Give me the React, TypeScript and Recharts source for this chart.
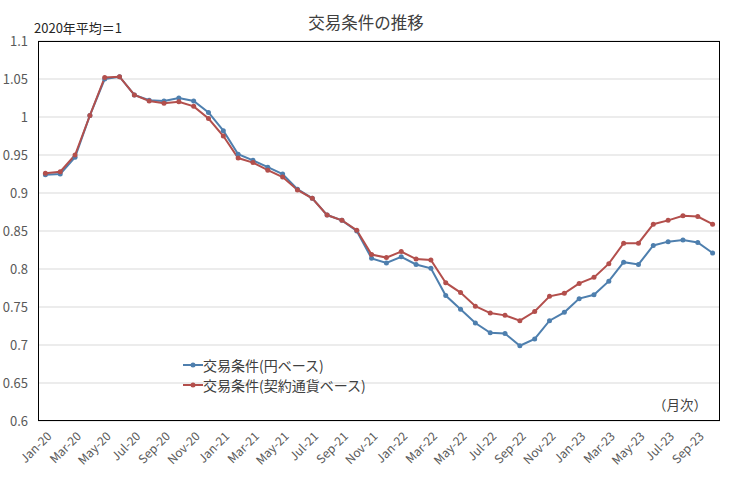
import { CartesianGrid, Line, LineChart, XAxis, YAxis } from 'recharts';

const months = [
	'Jan-20', 'Feb-20', 'Mar-20', 'Apr-20', 'May-20', 'Jun-20', 'Jul-20', 'Aug-20', 'Sep-20', 'Oct-20', 'Nov-20', 'Dec-20',
	'Jan-21', 'Feb-21', 'Mar-21', 'Apr-21', 'May-21', 'Jun-21', 'Jul-21', 'Aug-21', 'Sep-21', 'Oct-21', 'Nov-21', 'Dec-21',
	'Jan-22', 'Feb-22', 'Mar-22', 'Apr-22', 'May-22', 'Jun-22', 'Jul-22', 'Aug-22', 'Sep-22', 'Oct-22', 'Nov-22', 'Dec-22',
	'Jan-23', 'Feb-23', 'Mar-23', 'Apr-23', 'May-23', 'Jun-23', 'Jul-23', 'Aug-23', 'Sep-23', 'Oct-23',
];

// 交易条件（円ベース）
const yenBasis = [
	0.924, 0.925, 0.947, 1.002, 1.05, 1.053, 1.029, 1.022, 1.021, 1.025, 1.021, 1.006,
	0.982, 0.951, 0.943, 0.934, 0.925, 0.905, 0.893, 0.871, 0.864, 0.85, 0.814, 0.808,
	0.816, 0.806, 0.801, 0.765, 0.747, 0.729, 0.716, 0.715, 0.699, 0.708, 0.732, 0.743,
	0.761, 0.766, 0.784, 0.809, 0.806, 0.831, 0.836, 0.838, 0.835, 0.821,
];

// 交易条件（契約通貨ベース）
const contractBasis = [
	0.926, 0.928, 0.95, 1.002, 1.052, 1.053, 1.029, 1.021, 1.018, 1.02, 1.014, 0.998,
	0.975, 0.946, 0.94, 0.93, 0.921, 0.904, 0.893, 0.871, 0.864, 0.851, 0.819, 0.815,
	0.823, 0.813, 0.812, 0.782, 0.769, 0.751, 0.742, 0.739, 0.732, 0.744, 0.764, 0.768,
	0.781, 0.789, 0.807, 0.834, 0.834, 0.859, 0.864, 0.87, 0.869, 0.859,
];

const yTicks = [0.6, 0.65, 0.7, 0.75, 0.8, 0.85, 0.9, 0.95, 1, 1.05, 1.1];

const data = months.map((m, i) => ({ month: m, yen: yenBasis[i], contract: contractBasis[i] }));

const BLUE = '#4E7FAE';
const RED = '#B34F4C';
const FONT = '"Noto Sans CJK JP", "Noto Sans", sans-serif';

const MonthTick = ({ x, y, payload }: any) => (
	<g transform={`translate(${x + 4},${y + 5})`}>
		<text textAnchor="end" transform="rotate(-45)" dy="0.35em" fontSize={12} fill="#595959" fontFamily={FONT}>
			{payload.value}
		</text>
	</g>
);

const legendItems = [
	{ c: BLUE, t: '交易条件(円ベース)' },
	{ c: RED, t: '交易条件(契約通貨ベース)' },
];

export default function App() {
	return (
		<div style={{ position: 'absolute', left: 0, top: 0, width: 732, height: 477, background: '#fff', fontFamily: FONT }}>
			<LineChart width={732} height={477} data={data} margin={{ top: 41, right: 12, bottom: 0, left: 0 }}>
				<CartesianGrid horizontal vertical={false} stroke="#d9d9d9" strokeWidth={1} />
				<XAxis
					dataKey="month"
					interval={1}
					height={56}
					padding={{ left: 7.4, right: 7.4 }}
					tickLine={false}
					axisLine={false}
					tick={<MonthTick />}
				/>
				<YAxis
					domain={[0.6, 1.1]}
					ticks={yTicks}
					width={38}
					tickLine={false}
					axisLine={false}
					tickMargin={4}
					tick={{ fontSize: 13, fill: '#595959', fontFamily: FONT }}
				/>
				<Line
					dataKey="yen"
					stroke={BLUE}
					strokeWidth={2}
					dot={{ r: 2.5, fill: BLUE, stroke: BLUE, strokeWidth: 0 }}
					isAnimationActive={false}
				/>
				<Line
					dataKey="contract"
					stroke={RED}
					strokeWidth={2}
					dot={{ r: 2.5, fill: RED, stroke: RED, strokeWidth: 0 }}
					isAnimationActive={false}
				/>
			</LineChart>
			<div
				style={{
					position: 'absolute',
					left: 38,
					top: 41,
					width: 682,
					height: 380,
					boxSizing: 'border-box',
					border: '1px solid #000',
					pointerEvents: 'none',
				}}
			/>
			<div style={{ position: 'absolute', left: 183, top: 355, fontSize: 14, color: '#404040', lineHeight: '20px' }}>
				{legendItems.map((it) => (
					<div key={it.t} style={{ display: 'flex', alignItems: 'center' }}>
						<svg width={20} height={10} style={{ marginRight: 0 }}>
							<line x1={0} y1={5} x2={20} y2={5} stroke={it.c} strokeWidth={2} />
							<circle cx={10} cy={5} r={2.5} fill={it.c} />
						</svg>
						<span>{it.t}</span>
					</div>
				))}
			</div>
			<div style={{ position: 'absolute', left: 0, width: 732, top: 10, textAlign: 'center', fontSize: 16.5, color: '#404040' }}>
				交易条件の推移
			</div>
			<div style={{ position: 'absolute', left: 34, top: 18, fontSize: 13, color: '#262626' }}>2020年平均＝1</div>
			<div style={{ position: 'absolute', left: 653, top: 394, fontSize: 13.5, color: '#404040' }}>（月次）</div>
		</div>
	);
}
